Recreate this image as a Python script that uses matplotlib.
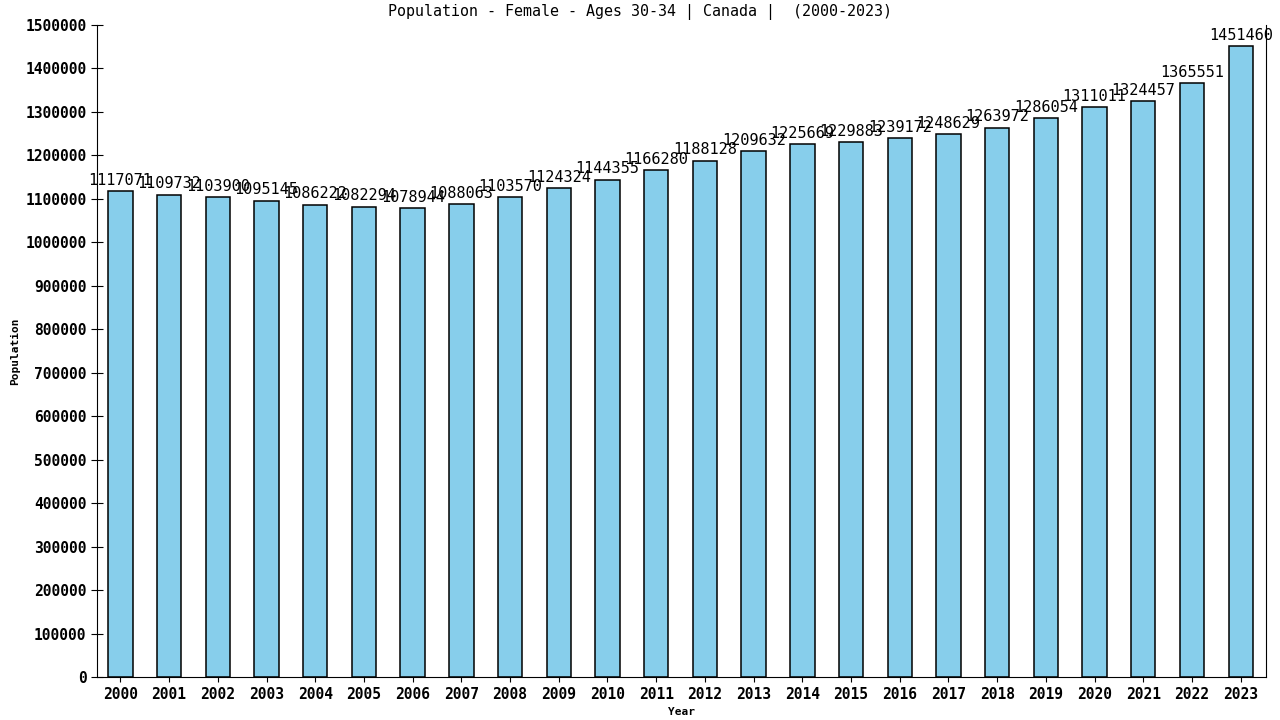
import matplotlib
matplotlib.use('Agg')
import matplotlib.pyplot as plt

years = [str(y) for y in range(2000, 2024)]
population = [1117071, 1109732, 1103900, 1095145, 1086222, 1082294, 1078944, 1088063,
              1103570, 1124324, 1144355, 1166280, 1188128, 1209632, 1225669, 1229883,
              1239172, 1248629, 1263972, 1286054, 1311011, 1324457, 1365551, 1451460]
yticks = list(range(0, 1500001, 100000))

matplotlib.rcParams['font.family'] = ['DejaVu Sans Mono', 'monospace']

fig = plt.figure(figsize=(12.8, 7.2), dpi=100)
ax = fig.add_axes([0.0758, 0.0597, 0.9133, 0.9056])

x = range(len(years))
ax.bar(x, population, width=0.5, color='#87ceeb', edgecolor='black', linewidth=1.1)
for i, v in enumerate(population):
	ax.text(i, v + 8000, str(v), ha='center', va='bottom', fontsize=11)

ax.set_xlim(-0.48, len(years) - 0.48)
ax.set_ylim(0, 1500000)
ax.set_xticks(list(x))
ax.set_xticklabels(years, fontsize=10.5)
ax.set_yticks(yticks)
ax.set_yticklabels([str(t) for t in yticks], fontsize=10.5, fontweight='bold')
for lbl in ax.get_xticklabels():
	lbl.set_fontweight('bold')
ax.tick_params(axis='y', direction='inout', length=8)
ax.spines['top'].set_visible(False)
ax.set_xlabel('Year', fontsize=8, fontweight='bold')
ax.set_ylabel('Population', fontsize=8, fontweight='bold')
fig.suptitle('Population - Female - Ages 30-34 | Canada |  (2000-2023)', fontsize=10.8, x=0.5, y=0.995)

fig.savefig('out.png', dpi=100)
